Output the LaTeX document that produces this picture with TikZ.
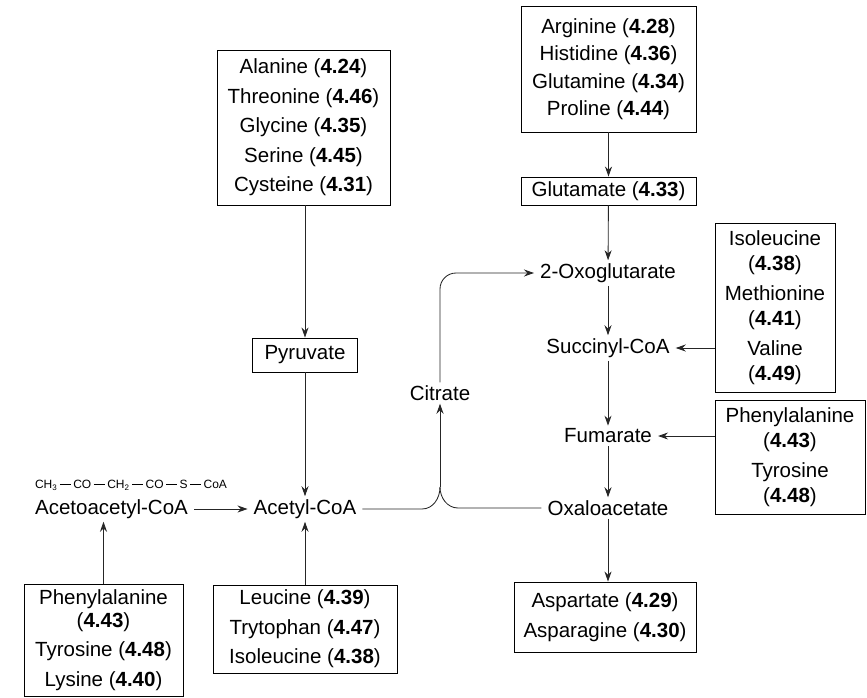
\documentclass[tikz,border=0pt]{standalone}
\usepackage{fontspec}
\setmainfont{Liberation Sans}
\usetikzlibrary{arrows.meta}
\newcommand{\bnd}{\hspace{2.5pt}\rule[3.6pt]{11pt}{0.6pt}\hspace{2.5pt}}
\tikzset{
  metab/.style={inner xsep=6pt, inner ysep=3pt, font=\fontsize{20.5}{29.5}\selectfont},
  aabox/.style={metab, draw, line width=0.9pt, align=center, inner sep=3pt},
  flow/.style={-{Stealth[length=10pt,width=7pt]}, line width=0.85pt, black!85},
  link/.style={line width=0.85pt, black!85}
}
\begin{document}
\begin{tikzpicture}[x=1pt,y=-1pt]
  \useasboundingbox (0,0) rectangle (867,698);
  % glucogenic sources, left column
  \node[aabox, minimum width=173pt, minimum height=155pt] (alabox) at (303.5,127.5)
    {Alanine (\textbf{4.24})\\Threonine (\textbf{4.46})\\Glycine (\textbf{4.35})\\Serine (\textbf{4.45})\\Cysteine (\textbf{4.31})};
  \node[aabox, minimum width=105pt, minimum height=34pt] (pyr) at (305,355) {Pyruvate};
  \node[metab] (acetyl) at (305,509) {Acetyl-CoA};
  \node[metab] (aceto) at (111.5,509) {Acetoacetyl-CoA};
  \node[font=\fontsize{12}{14}\selectfont, inner sep=0pt] (formula) at (131,485)
    {CH\textsubscript{3}\bnd CO\bnd CH\textsubscript{2}\bnd CO\bnd S\bnd CoA};
  \node[aabox, minimum width=159pt, minimum height=112pt] (lysbox) at (103.5,640)
    {Phenylalanine\\[-7pt](\textbf{4.43})\\Tyrosine (\textbf{4.48})\\Lysine (\textbf{4.40})};
  \node[aabox, minimum width=184pt, minimum height=88pt] (leubox) at (305,629)
    {Leucine (\textbf{4.39})\\Trytophan (\textbf{4.47})\\Isoleucine (\textbf{4.38})};
  % citric acid cycle, right column
  \node[aabox, minimum width=175pt, minimum height=126pt, font=\fontsize{20.5}{27.5}\selectfont] (argbox) at (608.5,69)
    {Arginine (\textbf{4.28})\\Histidine (\textbf{4.36})\\Glutamine (\textbf{4.34})\\Proline (\textbf{4.44})};
  \node[aabox, minimum width=175pt, minimum height=28pt] (glu) at (608.5,191) {Glutamate (\textbf{4.33})};
  \node[metab] (oxog) at (608,273) {2-Oxoglutarate};
  \node[metab] (succ) at (608,348) {Succinyl-CoA};
  \node[metab] (fum) at (608,436) {Fumarate};
  \node[metab] (oxalo) at (608,508) {Oxaloacetate};
  \node[metab] (citrate) at (440,393) {Citrate};
  \node[aabox, minimum width=182pt, minimum height=70pt] (aspbox) at (605,617)
    {Aspartate (\textbf{4.29})\\Asparagine (\textbf{4.30})};
  \node[aabox, minimum width=120pt, minimum height=169pt] (ilebox) at (775,307.5)
    {Isoleucine\\[-4pt](\textbf{4.38})\\Methionine\\[-4pt](\textbf{4.41})\\Valine\\[-4pt](\textbf{4.49})};
  \node[aabox, minimum width=150pt, minimum height=114pt] (phebox) at (790,457)
    {Phenylalanine\\[-4pt](\textbf{4.43})\\Tyrosine\\[-4pt](\textbf{4.48})};
  \coordinate (jn) at (440,487);

  \draw[flow] (pyr |- alabox.south) -- (pyr);
  \draw[flow] (pyr) -- (acetyl);
  \draw[flow] (leubox.north) -- (leubox.north |- acetyl.south);
  \draw[flow] (lysbox.north) -- (lysbox.north |- aceto.south);
  \draw[flow] (aceto) -- (acetyl);
  % the two branches meet and go up to citrate
  \draw[link] (acetyl.east) -- ([xshift=-18pt]jn |- acetyl.east) to[out=0, in=270] (jn);
  \draw[link] (oxalo.west) -- ([xshift=18pt]jn |- oxalo.west) to[out=180, in=270] (jn);
  \draw[flow] (jn) -- (citrate);
  \draw[flow, rounded corners=16pt] (citrate.north) |- (oxog.west);
  \draw[flow] (argbox) -- (glu);
  \draw[flow] (glu) -- (oxog);
  \draw[flow] (oxog) -- (succ);
  \draw[flow] (succ) -- (fum);
  \draw[flow] (fum) -- (oxalo);
  \draw[flow] (oxalo) -- (oxalo |- aspbox.north);
  \draw[flow] (ilebox.west |- succ.east) -- (succ.east);
  \draw[flow] (phebox.west |- fum.east) -- (fum.east);
\end{tikzpicture}
\end{document}
